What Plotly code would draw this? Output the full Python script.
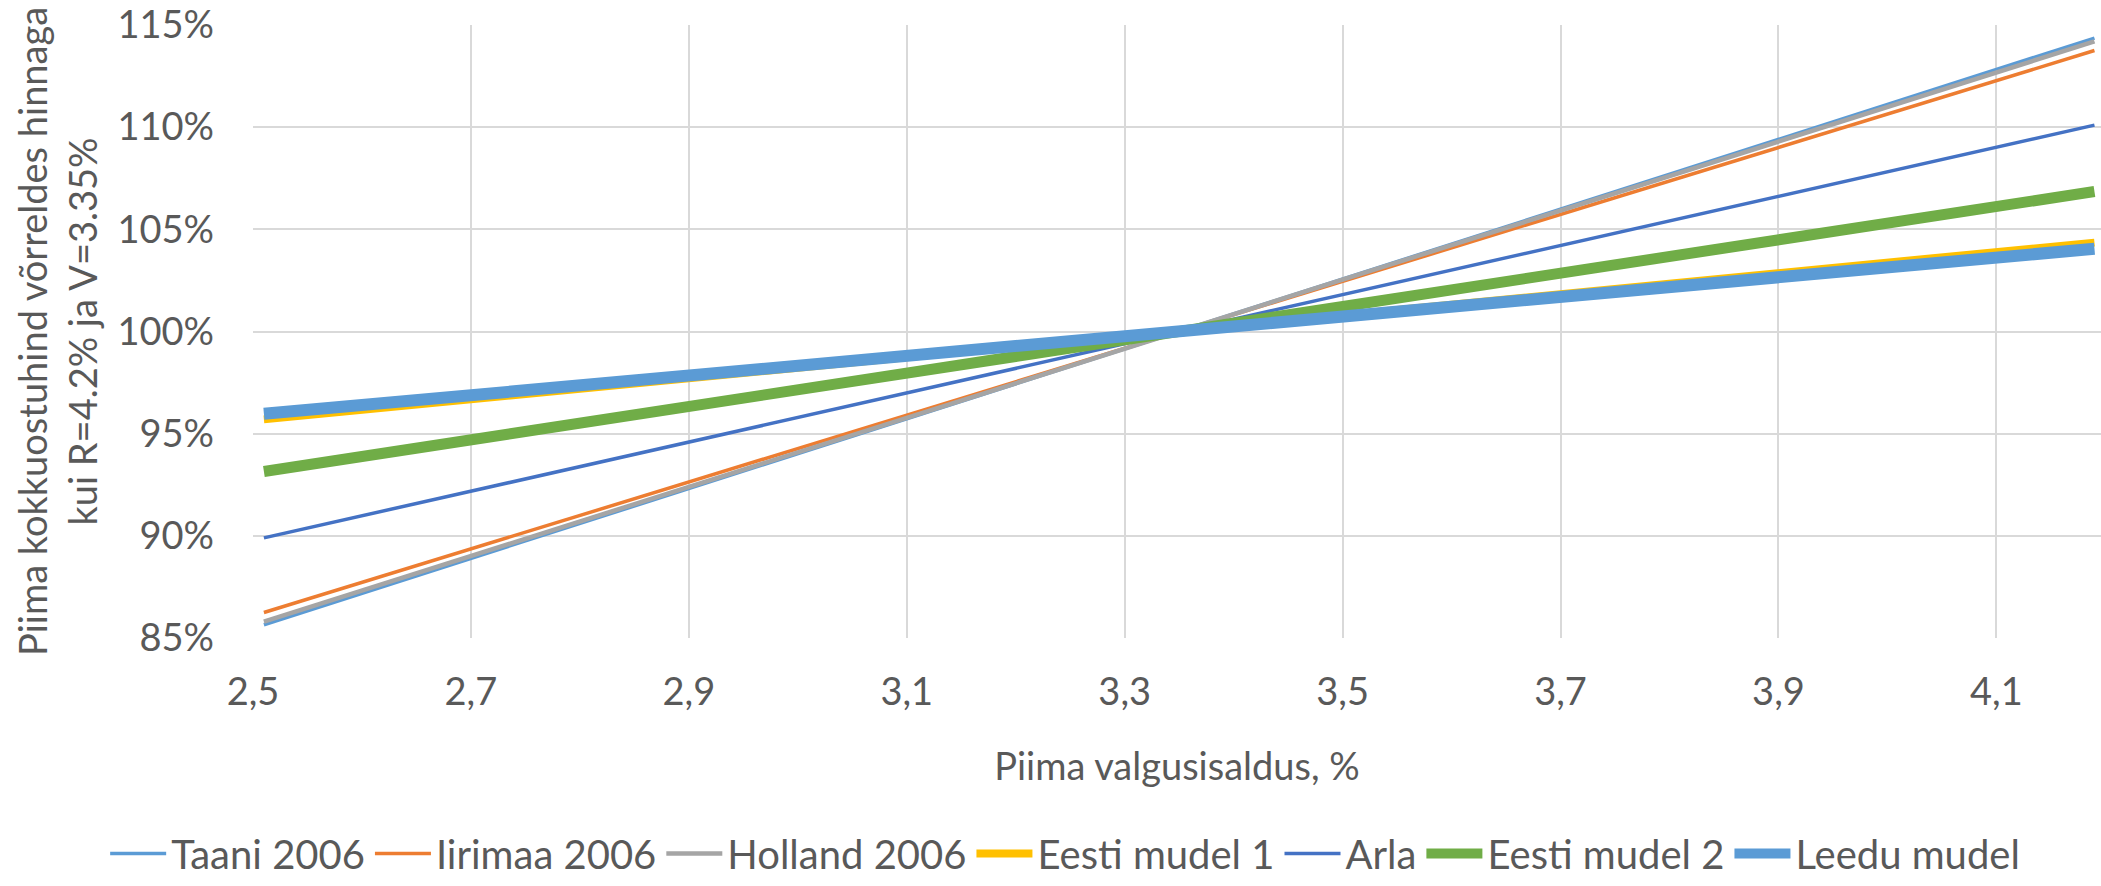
import plotly.graph_objects as go

# Data
x_vals = [2.51, 3.35, 4.19]
series_names = ["Taani 2006", "Iirimaa 2006", "Holland 2006", "Eesti mudel 1",
                "Arla", "Eesti mudel 2", "Leedu mudel"]
taani = [85.65, 100.0, 114.36]
iirimaa = [86.25, 100.0, 113.75]
holland = [85.8, 100.0, 114.2]
eesti1 = [95.7, 100.0, 104.35]
arla = [89.9, 100.0, 110.1]
eesti2 = [93.15, 100.0, 106.85]
leedu = [95.97, 100.0, 104.05]

series_values = [taani, iirimaa, holland, eesti1, arla, eesti2, leedu]
colors = ["#5B9BD5", "#ED7D31", "#A5A5A5", "#FFC000", "#4472C4", "#70AD47", "#5B9BD5"]
widths = [3.5, 3.5, 4.5, 8, 3.5, 11, 12]

x_ticks = [2.5, 2.7, 2.9, 3.1, 3.3, 3.5, 3.7, 3.9, 4.1]
y_ticks = [85, 90, 95, 100, 105, 110, 115]
y_ticktext = [f"{v}%" for v in y_ticks]

FONT = "Lato"
TXT = "#595959"
FS = 38

fig = go.Figure()
for name, vals, c, w in zip(series_names, series_values, colors, widths):
    fig.add_trace(go.Scatter(x=x_vals, y=vals, mode="lines", name=name,
                             line=dict(color=c, width=w)))

fig.update_layout(
    width=2101, height=886,
    margin=dict(l=253, r=0, t=25, b=224),
    paper_bgcolor="white", plot_bgcolor="white",
    separators=", ",
    font=dict(family=FONT, size=FS, color=TXT),
    showlegend=True,
    legend=dict(orientation="h", x=-0.08, xanchor="left", y=-0.352, yanchor="middle",
                font=dict(family=FONT, size=40, color=TXT),
                itemwidth=56, tracegroupgap=0, bgcolor="rgba(0,0,0,0)"),
    xaxis=dict(range=[2.5, 4.196], tickvals=x_ticks, tickformat=".1f",
               showgrid=True, gridcolor="#D9D9D9", gridwidth=2,
               zeroline=False, showline=False, ticks="",
               ticklabelstandoff=28,
               tickfont=dict(family=FONT, size=FS, color=TXT),
               title=dict(text="Piima valgusisaldus, %", standoff=41,
                          font=dict(family=FONT, size=FS, color=TXT))),
    yaxis=dict(range=[85, 115], tickvals=y_ticks, ticktext=y_ticktext,
               showgrid=True, gridcolor="#D9D9D9", gridwidth=2,
               zeroline=False, showline=False, ticks="",
               ticklabelstandoff=38,
               tickfont=dict(family=FONT, size=FS, color=TXT),
               title=dict(text="Piima kokkuostuhind võrreldes hinnaga<br>kui R=4.2% ja V=3.35%",
                          standoff=8,
                          font=dict(family=FONT, size=FS, color=TXT))),
)

fig.write_html("out.html")
